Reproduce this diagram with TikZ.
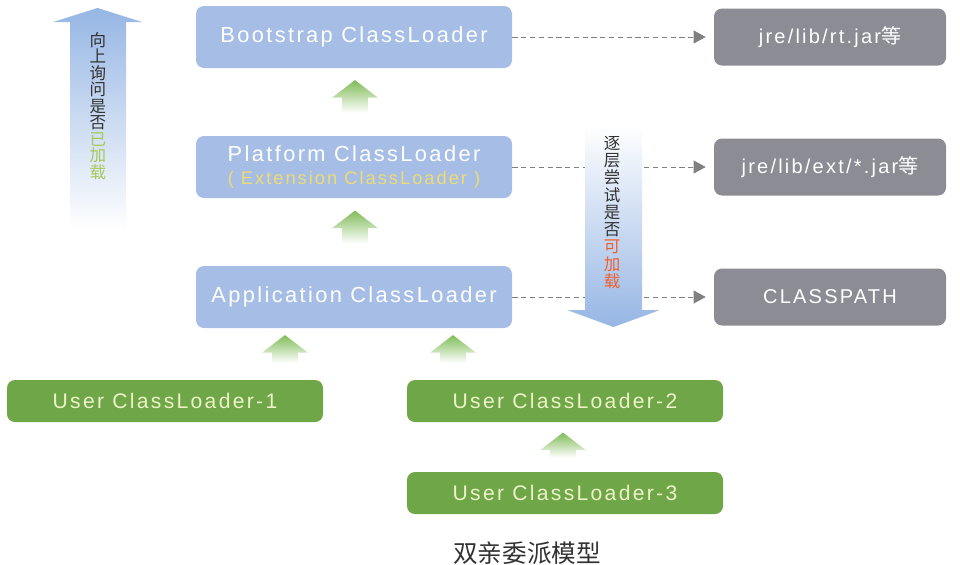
\documentclass[tikz,border=0pt]{standalone}
\usepackage{fontspec}
\setmainfont{Liberation Sans}
\newfontfamily\boxfont[LetterSpace=11]{Liberation Sans}
\newfontfamily\cjk{Noto Sans CJK SC}
\usepackage{xcolor}
\usepackage{tikz}
\usetikzlibrary{positioning,shapes.arrows,arrows.meta,calc}

\definecolor{loaderblue}{RGB}{166,189,230}
\definecolor{usergreen}{RGB}{110,166,72}
\definecolor{usertext}{RGB}{238,242,200}
\definecolor{pathgray}{RGB}{140,140,148}
\definecolor{extyellow}{RGB}{240,220,110}
\definecolor{flowblue}{RGB}{150,182,228}
\definecolor{upgreen}{RGB}{128,188,88}
\definecolor{askgreen}{RGB}{165,200,90}
\definecolor{tryorange}{RGB}{238,96,48}
\definecolor{darktext}{RGB}{50,50,50}

\begin{document}
\begin{tikzpicture}[
    >=Triangle,
    loader/.style={
        rounded corners=1.6mm,
        fill=loaderblue,
        minimum width=6.32cm,
        minimum height=1.24cm,
        align=center,
        text=white,
        font=\boxfont\fontsize{12.4}{15}\selectfont
    },
    user/.style={
        rounded corners=1.6mm,
        fill=usergreen,
        minimum width=6.32cm,
        minimum height=0.84cm,
        text=usertext,
        font=\boxfont\fontsize{12}{14}\selectfont
    },
    jarbox/.style={
        rounded corners=1.6mm,
        fill=pathgray,
        minimum width=4.64cm,
        minimum height=1.14cm,
        text=white,
        font=\boxfont\fontsize{11.4}{14}\selectfont
    },
    lookup/.style={densely dashed, gray, thin, -{Triangle[length=2.4mm,width=2.6mm]}, shorten >=1.6mm},
    uparr/.style={
        single arrow,
        shape border rotate=90,
        draw=none,
        top color=upgreen,
        bottom color=white,
        single arrow head extend=0.2cm,
        single arrow tip angle=105,
        inner ysep=0pt,
        inner xsep=0.25cm
    },
    vtext/.style={align=center, text=darktext}
]
\useasboundingbox (0,0) rectangle (19.2,-11.28);

% flow arrows in the background
\shade[top color=flowblue, middle color=flowblue!60, bottom color=white]
    (1.40,-4.60) -- (1.40,-0.44) -- (1.06,-0.44) -- (1.95,-0.16)
    -- (2.84,-0.44) -- (2.52,-0.44) -- (2.52,-4.60) -- cycle;
\node[vtext, font=\cjk\fontsize{9.4}{9.4}\selectfont] (ask) at (1.96,-2.12)
{向\\上\\询\\问\\是\\否\\\textcolor{askgreen}{已}\\\textcolor{askgreen}{加}\\\textcolor{askgreen}{载}};

% class loaders
\node[loader] (boot) at (7.08,-0.74) {Bootstrap ClassLoader};
\node[loader] (plat) at (7.08,-3.34)
{Platform ClassLoader\\[-2pt]{\fontsize{10.4}{12}\selectfont\color{extyellow}( Extension ClassLoader )}};
\node[loader] (app) at (7.08,-5.94) {Application ClassLoader};

\node[jarbox] (rtjar) at (16.60,-0.74) {jre/lib/rt.jar{\cjk 等}};
\node[jarbox] (extjar) at (16.60,-3.34) {jre/lib/ext/*.jar{\cjk 等}};
\node[jarbox] (cpath) at (16.60,-5.94) {CLASSPATH};

\draw[lookup] (boot) -- (rtjar);
\draw[lookup] (plat) -- (extjar);
\draw[lookup] (app) -- (cpath);

\shade[top color=white, middle color=flowblue!55, bottom color=flowblue]
    (11.70,-2.50) -- (11.70,-6.20) -- (11.34,-6.20) -- (12.27,-6.54)
    -- (13.20,-6.20) -- (12.84,-6.20) -- (12.84,-2.50) -- cycle;
\node[vtext, font=\cjk\fontsize{9.4}{9.8}\selectfont] (try) at (12.24,-4.25)
{逐\\层\\尝\\试\\是\\否\\\textcolor{tryorange}{可}\\\textcolor{tryorange}{加}\\\textcolor{tryorange}{载}};

% user loaders
\node[user] (user1) at (3.30,-8.02) {User ClassLoader-1};
\node[user] (user2) at (11.30,-8.02) {User ClassLoader-2};
\node[user] (user3) at (11.30,-9.86) {User ClassLoader-3};

% delegation arrows
\node[uparr, minimum height=0.66cm] (up1) at (7.10,-2.03) {};
\node[uparr, minimum height=0.66cm] (up2) at (7.10,-4.64) {};
\node[uparr, minimum height=0.56cm] (up3) at (5.70,-7.08) {};
\node[uparr, minimum height=0.56cm] (up4) at (9.06,-7.08) {};
\node[uparr, minimum height=0.50cm] (up5) at (11.26,-9.00) {};

\node[text=darktext, font=\cjk\fontsize{14}{16}\selectfont] (title) at (10.54,-11.06) {双亲委派模型};

\end{tikzpicture}
\end{document}
